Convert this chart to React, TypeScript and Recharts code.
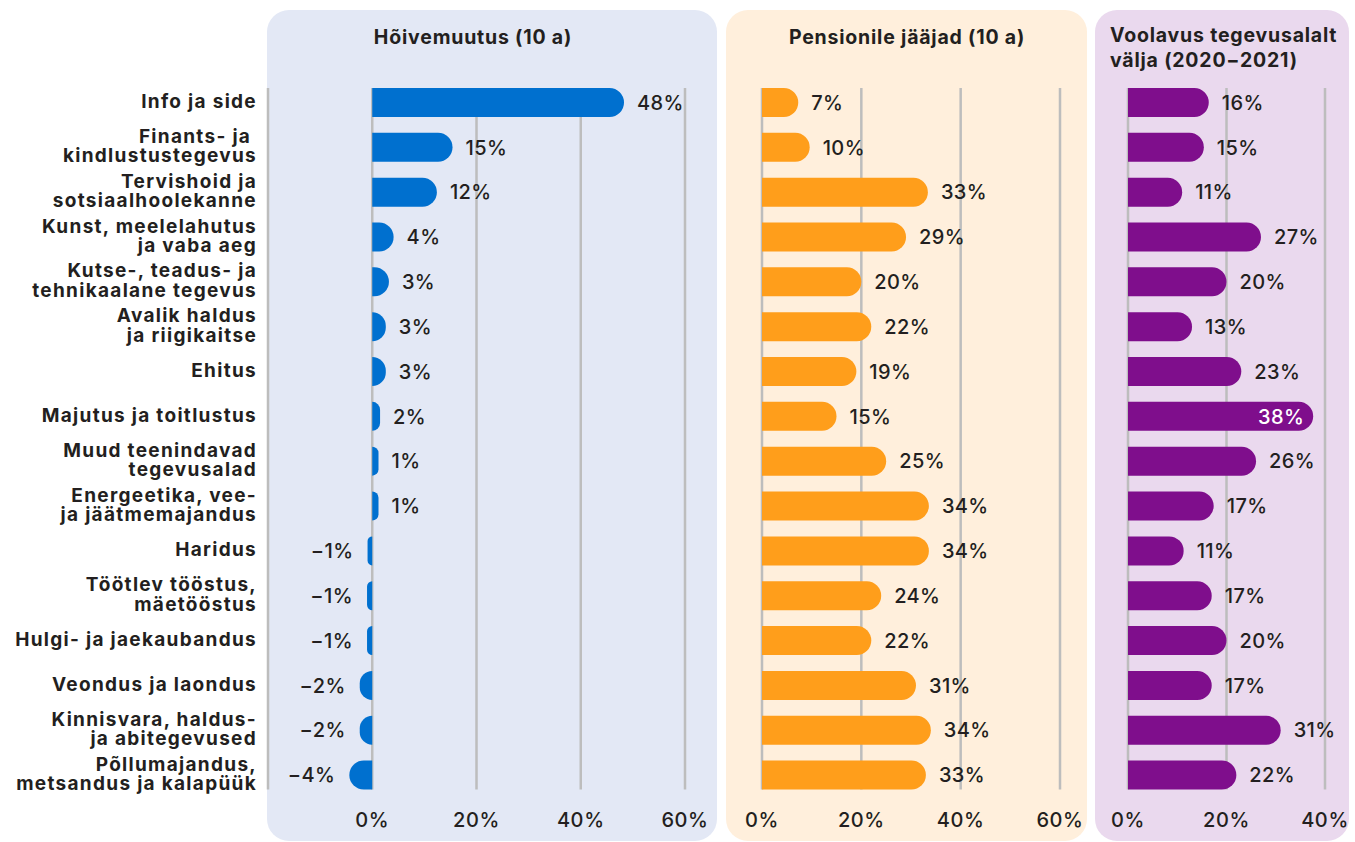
import React from "react";
import { BarChart, Bar, XAxis, YAxis, CartesianGrid, LabelList } from "recharts";

const categories = [
  "Info ja side",
  "Finants- ja \nkindlustustegevus",
  "Tervishoid ja\nsotsiaalhoolekanne",
  "Kunst, meelelahutus\nja vaba aeg",
  "Kutse-, teadus- ja\ntehnikaalane tegevus",
  "Avalik haldus\nja riigikaitse",
  "Ehitus",
  "Majutus ja toitlustus",
  "Muud teenindavad\ntegevusalad",
  "Energeetika, vee-\nja jäätmemajandus",
  "Haridus",
  "Töötlev tööstus,\nmäetööstus",
  "Hulgi- ja jaekaubandus",
  "Veondus ja laondus",
  "Kinnisvara, haldus-\nja abitegevused",
  "Põllumajandus,\nmetsandus ja kalapüük",
];

const hoivemuutus = [48.3, 15.4, 12.4, 4.1, 3.2, 2.6, 2.6, 1.5, 1.2, 1.2, -0.9, -1, -1, -2.4, -2.4, -4.4];
const pensionile = [7.3, 9.6, 33.4, 29, 20, 22, 19, 15, 25, 33.6, 33.6, 24, 22, 31, 34, 33];
const voolavus = [16.4, 15.4, 11, 27, 20, 13, 23, 37.6, 26, 17.4, 11.3, 17, 20, 17, 31, 22];

const hoiveTicks = [-20, 0, 20, 40, 60];
const pensionTicks = [0, 20, 40, 60];
const voolavusTicks = [0, 20, 40];

const FONT = "Inter, 'Noto Sans', sans-serif";
const TEXT = "#231f20";
const GRID = "#bdbdbd";

const toRows = (values: number[]) => categories.map((name, i) => ({ name, value: values[i] }));

function RoundBar(props: any) {
  const { x, y, width, height, fill } = props;
  if (width == null || height == null) return null;
  const left = width >= 0 ? x : x + width;
  const w = Math.abs(width);
  const r = Math.min(height / 2, w);
  let d: string;
  if (width >= 0) {
    d = `M${left},${y} L${left + w - r},${y} A${r},${r} 0 0 1 ${left + w},${y + r} L${left + w},${y + height - r} A${r},${r} 0 0 1 ${left + w - r},${y + height} L${left},${y + height} Z`;
  } else {
    d = `M${left + w},${y} L${left + r},${y} A${r},${r} 0 0 0 ${left},${y + r} L${left},${y + height - r} A${r},${r} 0 0 0 ${left + r},${y + height} L${left + w},${y + height} Z`;
  }
  return <path d={d} fill={fill} />;
}

const fmt = (v: number) => {
  const n = Math.round(v);
  return n < 0 ? `\u2212${Math.abs(n)}%` : `${n}%`;
};

// values above insideFrom are written in white inside the bar
const makeLabel = (insideFrom: number) => (props: any) => {
  const vb = props.viewBox ?? props;
  const { x, y, width, height } = vb;
  const value = Number(props.value);
  const cy = y + height / 2;
  const a = x;
  const b = x + width;
  let tx: number;
  let anchor: "start" | "end";
  let color = TEXT;
  if (value < 0) {
    tx = Math.min(a, b) - 14;
    anchor = "end";
  } else if (value >= insideFrom) {
    tx = Math.max(a, b) - 9;
    anchor = "end";
    color = "#ffffff";
  } else {
    tx = Math.max(a, b) + 13;
    anchor = "start";
  }
  return (
    <text x={tx} y={cy} dy="0.36em" textAnchor={anchor} fill={color} fontSize={20} fontWeight={500} fontFamily={FONT} letterSpacing={0.4}>
      {fmt(value)}
    </text>
  );
};

function CategoryTick({ y, payload }: any) {
  const lines = String(payload.value).split("\n");
  const lh = 19.5;
  const y0 = y - 1.5 - ((lines.length - 1) * lh) / 2;
  return (
    <text textAnchor="end" fill={TEXT} fontSize={19} fontWeight={700} fontFamily={FONT} letterSpacing={1.3} style={{ whiteSpace: "pre" }}>
      {lines.map((l, i) => (
        <tspan key={i} x={257} y={y0 + i * lh} dy="0.36em">
          {l}
        </tspan>
      ))}
    </text>
  );
}

const gridLine = (props: any) => {
  const { x1, y1, x2, y2 } = props;
  return <line key={`${x1}`} x1={x1} x2={x2} y1={y1 + 8} y2={y2 - 8} stroke={GRID} strokeWidth={2.5} />;
};

const MARGIN_TOP = 80;
const MARGIN_BOTTOM = 14.6;
const X_AXIS_H = 30;

function Panel({ left, width, color }: { left: number; width: number; color: string }) {
  return (
    <div
      style={{
        position: "absolute",
        left,
        top: 10,
        width,
        height: 831,
        background: color,
        borderRadius: 22,
      }}
    />
  );
}

function xAxisProps(domain: [number, number], ticks: number[]) {
  return {
    type: "number" as const,
    domain,
    ticks,
    interval: 0 as const,
    axisLine: false,
    tickLine: false,
    tickSize: 6,
    tickMargin: 9,
    height: X_AXIS_H,
    tick: { fill: TEXT, fontSize: 20, fontWeight: 500, fontFamily: FONT, letterSpacing: 0.6 },
    tickFormatter: (v: number) => (v < 0 ? "" : `${v}%`),
  };
}

const titleStyle: React.CSSProperties = {
  position: "absolute",
  top: 25,
  fontSize: 19.5,
  fontWeight: 700,
  letterSpacing: 0.8,
  color: TEXT,
  whiteSpace: "nowrap",
};

export default function App() {
  return (
    <div style={{ position: "absolute", left: 0, top: 0, width: 1355, height: 842, background: "#fff", overflow: "hidden", fontFamily: FONT }}>
      <Panel left={267} width={450} color="#e3e8f5" />
      <Panel left={726} width={361} color="#ffefdc" />
      <Panel left={1095} width={254} color="#ead9ee" />

      <div style={{ ...titleStyle, left: 268, width: 410, textAlign: "center" }}>Hõivemuutus (10 a)</div>
      <div style={{ ...titleStyle, left: 762, width: 290, textAlign: "center" }}>Pensionile jääjad (10 a)</div>
      <div style={{ ...titleStyle, left: 1110, top: 23, width: 240, lineHeight: "25px" }}>
        Voolavus tegevusalalt
        <br />
        välja (2020−2021)
      </div>

      <div style={{ position: "absolute", left: 0, top: 0 }}>
        <BarChart width={717} height={842} layout="vertical" data={toRows(hoivemuutus)} margin={{ top: MARGIN_TOP, right: 32, bottom: MARGIN_BOTTOM, left: 0 }}>
          <CartesianGrid horizontal={false} vertical={gridLine} />
          <XAxis dataKey="value" {...xAxisProps([-20, 60], hoiveTicks)} />
          <YAxis type="category" dataKey="name" width={268} axisLine={false} tickLine={false} tick={<CategoryTick />} interval={0} />
          <Bar dataKey="value" fill="#0070cf" barSize={29} shape={<RoundBar />} isAnimationActive={false}>
            <LabelList dataKey="value" content={makeLabel(999)} />
          </Bar>
        </BarChart>
      </div>

      <div style={{ position: "absolute", left: 725, top: 0 }}>
        <BarChart width={363} height={842} layout="vertical" data={toRows(pensionile)} margin={{ top: MARGIN_TOP, right: 28, bottom: MARGIN_BOTTOM, left: 37 }}>
          <CartesianGrid horizontal={false} vertical={gridLine} />
          <XAxis dataKey="value" {...xAxisProps([0, 60], pensionTicks)} />
          <YAxis type="category" dataKey="name" hide />
          <Bar dataKey="value" fill="#ff9e1b" barSize={29} shape={<RoundBar />} isAnimationActive={false}>
            <LabelList dataKey="value" content={makeLabel(999)} />
          </Bar>
        </BarChart>
      </div>

      <div style={{ position: "absolute", left: 1095, top: 0 }}>
        <BarChart width={253} height={842} layout="vertical" data={toRows(voolavus)} margin={{ top: MARGIN_TOP, right: 23, bottom: MARGIN_BOTTOM, left: 33 }}>
          <CartesianGrid horizontal={false} vertical={gridLine} />
          <XAxis dataKey="value" {...xAxisProps([0, 40], voolavusTicks)} />
          <YAxis type="category" dataKey="name" hide />
          <Bar dataKey="value" fill="#7f0e8c" barSize={29} shape={<RoundBar />} isAnimationActive={false}>
            <LabelList dataKey="value" content={makeLabel(35)} />
          </Bar>
        </BarChart>
      </div>
    </div>
  );
}
